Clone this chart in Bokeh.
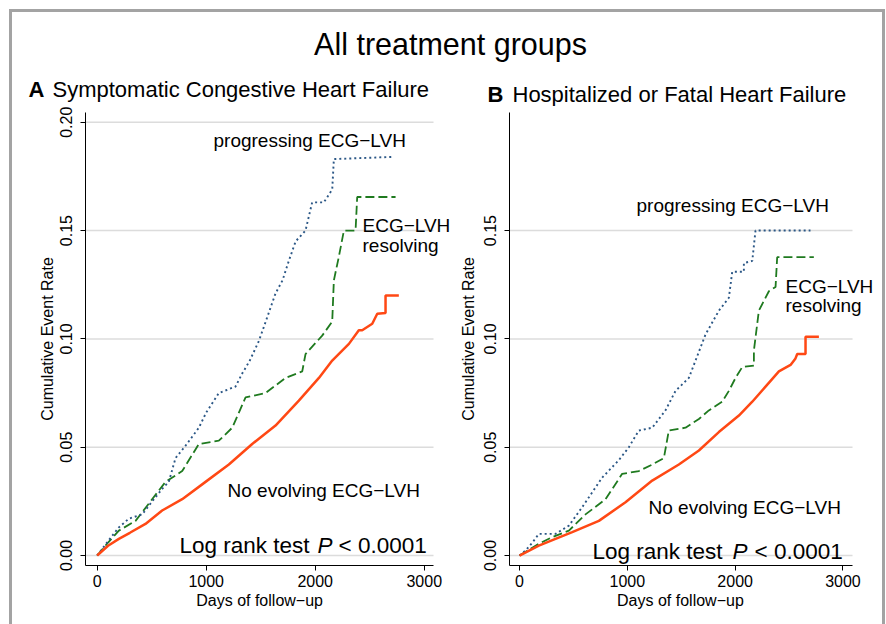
from bokeh.plotting import figure
from bokeh.models import Range1d, Label, FixedTicker, NumeralTickFormatter, ColumnDataSource
from bokeh.layouts import column, row
from bokeh.embed import file_html
from bokeh.resources import INLINE

FONT = "Liberation Sans"
NB = "\u00a0"

chart_title = "All treatment groups"
panel_a_letter = "A"
panel_a_title = "Symptomatic Congestive Heart Failure"
panel_b_letter = "B"
panel_b_title = "Hospitalized or Fatal Heart Failure"
y_label = "Cumulative Event Rate"
x_label = "Days of follow\u2212up"
x_ticks = [0, 1000, 2000, 3000]
a_y_ticks = [0.0, 0.05, 0.10, 0.15, 0.20]
b_y_ticks = [0.0, 0.05, 0.10, 0.15]
lbl_prog = "progressing ECG\u2212LVH"
lbl_res1 = "ECG\u2212LVH"
lbl_res2 = "resolving"
lbl_none = "No evolving ECG\u2212LVH"
lbl_lr1 = "Log rank test"
lbl_lr2 = "P"
lbl_lr3 = "< 0.0001"

# Panel A: symptomatic CHF
a_none_days = [0, 100, 199, 300, 443, 596, 780, 994, 1208, 1422, 1636, 1850, 2034, 2156, 2309, 2400, 2431, 2523, 2569, 2645, 2645, 2767]
a_none_rate = [0, 0.0045, 0.0077, 0.0105, 0.0146, 0.0208, 0.026, 0.034, 0.042, 0.0515, 0.060, 0.0715, 0.082, 0.090, 0.0977, 0.104, 0.104, 0.107, 0.1116, 0.112, 0.120, 0.120]
a_prog_days = [0, 60, 120, 199, 290, 413, 505, 600, 657, 719, 800, 933, 1000, 1116, 1269, 1330, 1400, 1483, 1560, 1636, 1700, 1758, 1820, 1911, 1972, 2079, 2156, 2171, 2706]
a_prog_rate = [0, 0.004, 0.008, 0.013, 0.017, 0.019, 0.025, 0.031, 0.034, 0.045, 0.050, 0.059, 0.066, 0.075, 0.078, 0.084, 0.090, 0.099, 0.110, 0.121, 0.127, 0.136, 0.145, 0.150, 0.163, 0.163, 0.169, 0.183, 0.184]
a_res_days = [0, 100, 199, 352, 474, 627, 780, 933, 1116, 1239, 1300, 1361, 1544, 1728, 1881, 1911, 2064, 2156, 2171, 2217, 2263, 2370, 2385, 2737]
a_res_rate = [0, 0.006, 0.0115, 0.016, 0.024, 0.034, 0.039, 0.0515, 0.053, 0.059, 0.066, 0.073, 0.075, 0.082, 0.085, 0.093, 0.1015, 0.108, 0.127, 0.138, 0.150, 0.150, 0.1655, 0.1655]

# Panel B: hospitalized or fatal HF
b_none_days = [0, 179, 489, 736, 983, 1231, 1478, 1664, 1849, 2035, 2159, 2282, 2406, 2514, 2560, 2576, 2653, 2653, 2777]
b_none_rate = [0, 0.0046, 0.0108, 0.016, 0.0246, 0.0346, 0.042, 0.0485, 0.057, 0.0646, 0.071, 0.078, 0.085, 0.088, 0.091, 0.093, 0.093, 0.101, 0.101]
b_prog_days = [0, 56, 120, 179, 334, 458, 581, 767, 921, 1014, 1107, 1231, 1354, 1447, 1571, 1648, 1725, 1849, 1942, 1973, 2081, 2081, 2159, 2189, 2699]
b_prog_rate = [0, 0.0023, 0.006, 0.010, 0.010, 0.0138, 0.0223, 0.036, 0.044, 0.050, 0.0577, 0.059, 0.067, 0.076, 0.082, 0.092, 0.102, 0.113, 0.119, 0.131, 0.131, 0.135, 0.136, 0.150, 0.150]
b_res_days = [0, 100, 179, 303, 458, 612, 798, 952, 1107, 1231, 1339, 1385, 1540, 1664, 1756, 1880, 1942, 2004, 2066, 2174, 2174, 2220, 2313, 2375, 2390, 2730]
b_res_rate = [0, 0.003, 0.0054, 0.0085, 0.0115, 0.019, 0.026, 0.0377, 0.039, 0.042, 0.045, 0.0577, 0.059, 0.063, 0.067, 0.071, 0.076, 0.082, 0.087, 0.0877, 0.0946, 0.113, 0.122, 0.124, 0.1377, 0.1377]

RED = "#ff4814"
GREEN = "#1f7a1f"
BLUE = "#2b5786"


def lbl(p, x, y, text, size, align="left", style="normal"):
    p.add_layout(Label(x=x, y=y, x_units="screen", y_units="screen", text=text,
                       text_font=FONT, text_font_size=size, text_font_style=style,
                       text_color="black", text_align=align, text_baseline="middle"))


def panel(width, xr, x_axis_end, yr, yticks, bl, xlab_pad, ylab_standoff, series):
    p = figure(width=width, height=518, output_backend="svg", toolbar_location=None,
               x_range=Range1d(*xr), y_range=Range1d(*yr),
               min_border_left=bl, min_border_right=0, min_border_top=6, min_border_bottom=59)
    p.outline_line_color = None
    p.background_fill_color = "white"
    p.border_fill_color = "white"
    p.xgrid.visible = False
    p.ygrid.visible = False
    # horizontal grid lines at the y ticks, ending where the x axis ends
    p.segment(x0=[xr[0]] * len(yticks), x1=[x_axis_end] * len(yticks), y0=yticks, y1=yticks,
              line_color="#dcdcdc", line_width=1.5)
    p.xaxis.ticker = FixedTicker(ticks=x_ticks)
    p.yaxis.ticker = FixedTicker(ticks=yticks)
    p.xaxis.bounds = (xr[0], x_axis_end)
    p.yaxis.formatter = NumeralTickFormatter(format="0.00")
    p.yaxis.major_label_orientation = "vertical"
    for ax in (p.xaxis[0], p.yaxis[0]):
        ax.axis_line_color = "black"
        ax.major_tick_line_color = "black"
        ax.major_tick_out = 5
        ax.major_tick_in = 0
        ax.minor_tick_line_color = None
        ax.major_label_text_font = FONT
        ax.major_label_text_font_size = "16px"
        ax.major_label_text_color = "black"
        ax.axis_label_text_font = FONT
        ax.axis_label_text_font_size = "16px"
        ax.axis_label_text_font_style = "normal"
        ax.axis_label_text_color = "black"
    # the axis label is centred on the plot area; pad it so it centres on the drawn axis
    p.xaxis.axis_label = x_label + NB * xlab_pad
    p.yaxis.axis_label = y_label
    p.xaxis.major_label_standoff = 4
    p.xaxis.axis_label_standoff = 2
    p.yaxis.major_label_standoff = 8
    p.yaxis.axis_label_standoff = ylab_standoff
    (nd, nr), (pd_, pr), (rd, rr) = series
    p.line(x="d", y="r", source=ColumnDataSource(dict(d=rd, r=rr)), line_color=GREEN,
           line_width=1.8, line_dash="9 4")
    p.line(x="d", y="r", source=ColumnDataSource(dict(d=pd_, r=pr)), line_color=BLUE,
           line_width=1.9, line_dash="2 3")
    p.line(x="d", y="r", source=ColumnDataSource(dict(d=nd, r=nr)), line_color=RED,
           line_width=2.5)
    return p


pA = panel(439, (-107, 3250), 3085, (-0.0046, 0.2045), a_y_ticks, 73, 4, 2,
           [(a_none_days, a_none_rate), (a_prog_days, a_prog_rate), (a_res_days, a_res_rate)])
lbl(pA, 128, 425, lbl_prog, "19px")
lbl(pA, 277, 340, lbl_res1, "19px")
lbl(pA, 277, 320, lbl_res2, "19px")
lbl(pA, 142, 75, lbl_none, "19px")
lbl(pA, 94, 20, lbl_lr1, "22.5px")
lbl(pA, 232, 20, lbl_lr2, "22.5px", style="italic")
lbl(pA, 253, 20, lbl_lr3, "22.5px")

pB = panel(431, (-93, 3367), 3089, (-0.0046, 0.2045), b_y_ticks, 58, 7, 5,
           [(b_none_days, b_none_rate), (b_prog_days, b_prog_rate), (b_res_days, b_res_rate)])
lbl(pB, 127, 360, lbl_prog, "19px")
lbl(pB, 276, 279, lbl_res1, "19px")
lbl(pB, 276, 260, lbl_res2, "19px")
lbl(pB, 139, 58, lbl_none, "19px")
lbl(pB, 83, 14, lbl_lr1, "22.5px")
lbl(pB, 223, 14, lbl_lr2, "22.5px", style="italic")
lbl(pB, 245, 14, lbl_lr3, "22.5px")

tfig = figure(width=870, height=94, output_backend="svg", toolbar_location=None,
              x_axis_location=None, y_axis_location=None, min_border=0,
              x_range=Range1d(0, 1), y_range=Range1d(0, 1))
tfig.outline_line_color = None
tfig.xgrid.visible = False
tfig.ygrid.visible = False
lbl(tfig, 438, 63, chart_title, "30.5px", align="center")
lbl(tfig, 16, 17, panel_a_letter, "22px", style="bold")
lbl(tfig, 40, 17, panel_a_title, "22px")
lbl(tfig, 475, 12, panel_b_letter, "22px", style="bold")
lbl(tfig, 500, 12, panel_b_title, "22px")

root = column(tfig, row(pA, pB), styles={"border": "3px solid #a3a3a3",
                                          "margin-left": "9px", "margin-top": "9px"})

open("out.html", "w").write(file_html(root, INLINE))
